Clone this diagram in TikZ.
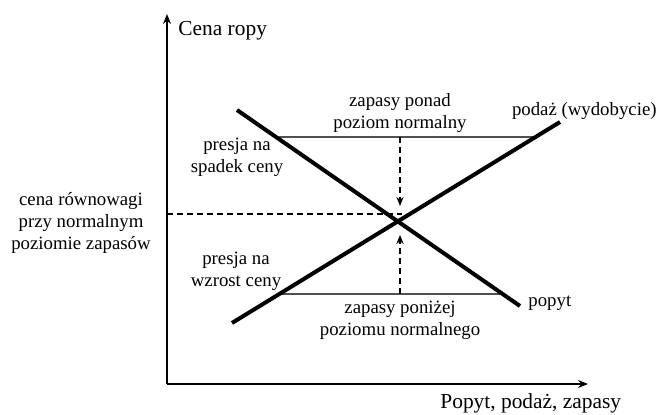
\documentclass[tikz,border=0pt]{standalone}
\usepackage{fontspec}
\setmainfont{Liberation Serif}
\usetikzlibrary{arrows.meta, calc, intersections}
\tikzset{every node/.append style={align=center}}
\definecolor{levelgray}{RGB}{80,80,80}

\begin{document}
\begin{tikzpicture}[x=0.5pt, y=-0.5pt,
  curve/.style={line width=2pt},
  axis/.style={line width=0.7pt, -{Stealth[length=5pt, width=4pt]}},
  level/.style={line width=0.6pt, levelgray},
  guide/.style={line width=0.6pt, dash pattern=on 3pt off 2pt},
  press/.style={guide, -{Stealth[length=4.5pt, width=3.6pt]}},
  lbl/.style={font=\fontsize{9.4}{11}\selectfont, inner sep=0pt},
  axlbl/.style={font=\fontsize{10.7}{13}\selectfont, inner sep=0pt}]

\useasboundingbox (0,0) rectangle (659,414);

% ── Axes ─────────────────────────────────────────────────────────────────────
\coordinate (O) at (167,384);
\coordinate (ytop) at (167,14);
\coordinate (xend) at (588,384);
\draw[axis] (O) -- (ytop);
\draw[axis] (O) -- (xend);
\node[axlbl, anchor=base west] (pricelbl) at (178,35) {Cena ropy};
\node[axlbl, anchor=base west] (qtylbl) at (440,408) {Popyt, podaż, zapasy};

% ── Inventory levels ─────────────────────────────────────────────────────────
\coordinate (hu1) at (279,137);
\coordinate (hu2) at (533,137);
\coordinate (hl1) at (281,294);
\coordinate (hl2) at (503,294);
\draw[level] (hu1) -- (hu2);
\draw[level] (hl1) -- (hl2);

% ── Demand and supply ────────────────────────────────────────────────────────
\coordinate (d1) at (237,110);
\coordinate (d2) at (520,306);
\coordinate (s1) at (232,323);
\coordinate (s2) at (560,122);
\draw[curve] (d1) -- (d2);
\draw[curve] (s1) -- (s2);

% Equilibrium price (dashed)
\coordinate (eqlvl) at (167,214);
\coordinate (eqend) at (402,214);
\draw[guide] (eqlvl) -- (eqend);

% Price pressure arrows
\coordinate (topmid) at (400,137);
\coordinate (downtip) at (400,206);
\coordinate (botmid) at (400,294);
\coordinate (uptip) at (400,235);
\draw[press] (topmid) -- (downtip);
\draw[press] (botmid) -- (uptip);

% ── Labels ───────────────────────────────────────────────────────────────────
\node[lbl] (above) at (400,113) {zapasy ponad\\poziom normalny};
\node[lbl] (below) at (400,320) {zapasy poniżej\\poziomu normalnego};
\node[lbl] (fall) at (237,157) {presja na\\spadek ceny};
\node[lbl] (rise) at (236,271) {presja na\\wzrost ceny};
\node[lbl] (eqprice) at (81,223) {cena równowagi\\przy normalnym\\poziomie zapasów};
\node[lbl, anchor=base east] (supplylbl) at (657,115) {podaż (wydobycie)};
\node[lbl, anchor=base west] (demandlbl) at (528,306) {popyt};

\end{tikzpicture}
\end{document}
